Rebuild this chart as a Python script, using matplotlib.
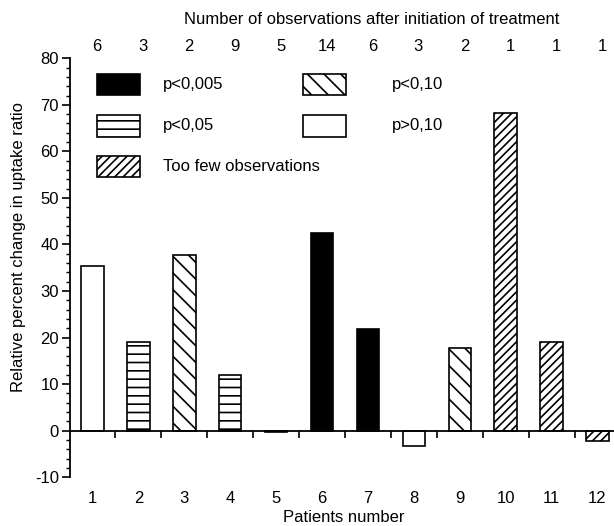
import matplotlib
matplotlib.use("Agg")
import matplotlib.pyplot as plt
from matplotlib.patches import Rectangle
from matplotlib.ticker import MultipleLocator
import matplotlib.transforms as mtransforms

plt.rcParams['font.family'] = ['Liberation Sans', 'DejaVu Sans']
plt.rcParams['hatch.linewidth'] = 1.2
plt.rcParams['axes.unicode_minus'] = False

# data
patients = [1, 2, 3, 4, 5, 6, 7, 8, 9, 10, 11, 12]
change = [35.4, 19.0, 37.8, 12.0, -0.3, 42.4, 21.8, -3.4, 17.8, 68.3, 19.1, -2.2]
n_obs = [6, 3, 2, 9, 5, 14, 6, 3, 2, 1, 1, 1]
group = ["p>0,10", "p<0,05", "p<0,10", "p<0,05", "p>0,10", "p<0,005",
         "p<0,005", "p>0,10", "p<0,10", "few", "few", "few"]

styles = {
    "p<0,005": dict(facecolor="black", hatch=None),
    "p<0,05": dict(facecolor="white", hatch="--"),
    "p<0,10": dict(facecolor="white", hatch="\\\\"),
    "p>0,10": dict(facecolor="white", hatch=None),
    "few": dict(facecolor="white", hatch="////"),
}
legend_text = {"p<0,005": "p<0,005", "p<0,05": "p<0,05", "p<0,10": "p<0,10",
               "p>0,10": "p>0,10", "few": "Too few observations"}

fig = plt.figure(figsize=(6.14, 5.26), dpi=100)
ax = fig.add_axes([0.114, 0.0928, 0.886, 0.7963])

for x, v, g in zip(patients, change, group):
    st = styles[g]
    ax.bar(x, v, width=0.49, facecolor=st["facecolor"], edgecolor="black",
           hatch=st["hatch"], linewidth=1.2, zorder=2)

ax.set_xlim(0.51, 12.36)
ax.set_ylim(-10, 80)

for s in ["top", "right"]:
    ax.spines[s].set_visible(False)
ax.spines["bottom"].set_position(("data", 0))
ax.spines["bottom"].set_linewidth(1.3)
ax.spines["left"].set_linewidth(1.3)
ax.spines["bottom"].set_zorder(3)

ax.set_xticks([p + 0.5 for p in patients[:-1]])
ax.set_xticklabels([])
ax.tick_params(axis="x", direction="out", length=5, width=1.2)
ax.yaxis.set_major_locator(MultipleLocator(10))
ax.yaxis.set_minor_locator(MultipleLocator(2))
ax.tick_params(axis="y", which="major", length=6, width=1.2, labelsize=12, pad=2)
ax.tick_params(axis="y", which="minor", length=3, width=1.0)

# patient numbers under the plot, counts above it
tr = mtransforms.blended_transform_factory(ax.transData, fig.transFigure)
for x, n in zip(patients, n_obs):
    ax.text(x, 0.053, str(x), transform=tr, ha="center", va="center", fontsize=12)
    ax.text(x + 0.1, 0.9125, str(n), transform=tr, ha="center", va="center",
            fontsize=12, clip_on=False)

fig.text(0.606, 0.962, "Number of observations after initiation of treatment",
         ha="center", va="center", fontsize=12)
fig.text(0.56, 0.017, "Patients number", ha="center", va="center", fontsize=12)
fig.text(0.03, 0.53, "Relative percent change in uptake ratio", rotation=90,
         ha="center", va="center", fontsize=12)

# legend drawn inside the axes
legend_layout = [("p<0,005", 1.09, 72.1, 2.54), ("p<0,10", 5.58, 72.1, 7.52),
                 ("p<0,05", 1.09, 63.2, 2.54), ("p>0,10", 5.58, 63.2, 7.52),
                 ("few", 1.09, 54.5, 2.54)]
for key, bx, by, tx in legend_layout:
    st = styles[key]
    ax.add_patch(Rectangle((bx, by), 0.94, 4.6, facecolor=st["facecolor"],
                           edgecolor="black", hatch=st["hatch"], linewidth=1.2))
    ax.text(tx, by + 2.3, legend_text[key], ha="left", va="center", fontsize=12)

fig.savefig("out.png", dpi=100)
